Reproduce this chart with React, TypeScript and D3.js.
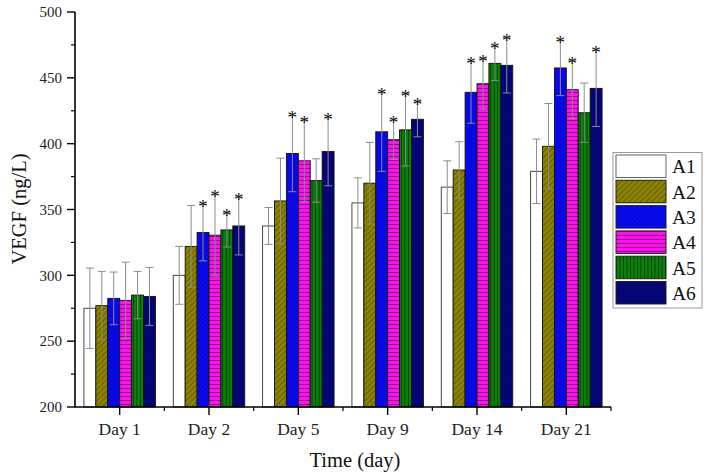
import React from "react";
import { scaleBand, scaleLinear, range } from "d3";

// categories and series
const days = ["Day 1", "Day 2", "Day 5", "Day 9", "Day 14", "Day 21"];
const groups = ["A1", "A2", "A3", "A4", "A5", "A6"];

// mean VEGF (ng/L) per group, one value per day
const a1 = [275, 300, 337.5, 355, 367, 379];
const a2 = [277, 322, 356.5, 370, 380, 398];
const a3 = [282.5, 332.5, 392.5, 409, 439, 457.5];
const a4 = [281, 330.5, 387, 403, 445.5, 441];
const a5 = [285, 334.5, 372, 410.5, 461, 423.5];
const a6 = [284, 337.5, 394, 418.5, 459.5, 442];

// error bars (SD)
const e1 = [30.5, 22, 14, 19, 20, 24.5];
const e2 = [26, 31, 32.5, 31, 21.5, 32.5];
const e3 = [20, 21.5, 29, 30, 23.5, 21];
const e4 = [29, 31, 31, 15, 19, 22];
const e5 = [18, 13, 16.5, 27.5, 13, 22.5];
const e6 = [22, 22, 26, 13.3, 21, 29];

// significance marks (1 = *)
const s1 = [0, 0, 0, 0, 0, 0];
const s2 = [0, 0, 0, 0, 0, 0];
const s3 = [0, 1, 1, 1, 1, 1];
const s4 = [0, 1, 1, 1, 1, 1];
const s5 = [0, 1, 0, 1, 1, 0];
const s6 = [0, 1, 1, 1, 1, 1];

const yTicks = [200, 250, 300, 350, 400, 450, 500];

const means = [a1, a2, a3, a4, a5, a6];
const errs = [e1, e2, e3, e4, e5, e6];
const stars = [s1, s2, s3, s4, s5, s6];

const W = 707;
const H = 473;
const FONT = "'Liberation Serif', 'Times New Roman', serif";

export default function App() {
  const x0 = scaleBand<string>().domain(days).range([75, 611]).paddingInner(0.2).paddingOuter(0.1);
  const x1 = scaleBand<string>().domain(groups).range([0, x0.bandwidth()]);
  const y = scaleLinear().domain([200, 500]).range([407, 12]);
  const minor = range(225, 500, 50);
  const step = x0.step();
  const bounds = days.map((d) => (x0(d) as number) - step * 0.1 + step);

  const fills = ["#ffffff", "url(#pA2)", "url(#pA3)", "url(#pA4)", "url(#pA5)", "url(#pA6)"];

  return (
    <svg width={W} height={H} style={{ position: "absolute", left: 0, top: 0, background: "#fff" }}>
      <defs>
        <pattern id="pA2" width="4" height="4" patternUnits="userSpaceOnUse" patternTransform="rotate(-45)">
          <rect width="4" height="4" fill="#8c8400" />
          <line x1="0" y1="0" x2="4" y2="0" stroke="#3a3500" strokeWidth="1" />
        </pattern>
        <pattern id="pA3" width="3" height="3" patternUnits="userSpaceOnUse" patternTransform="rotate(45)">
          <rect width="3" height="3" fill="#0a0af5" />
          <path d="M0 0H3M0 0V3" stroke="#0000a0" strokeWidth="0.6" />
        </pattern>
        <pattern id="pA4" width="4" height="4" patternUnits="userSpaceOnUse">
          <rect width="4" height="4" fill="#ff10f0" />
          <line x1="0" y1="0.5" x2="4" y2="0.5" stroke="#7a1070" strokeWidth="0.9" />
        </pattern>
        <pattern id="pA5" width="3.5" height="4" patternUnits="userSpaceOnUse">
          <rect width="3.5" height="4" fill="#0a820a" />
          <line x1="0.5" y1="0" x2="0.5" y2="4" stroke="#053a05" strokeWidth="0.9" />
        </pattern>
        <pattern id="pA6" width="3" height="3" patternUnits="userSpaceOnUse">
          <rect width="3" height="3" fill="#05057e" />
          <path d="M0 0H3M0 0V3" stroke="#000050" strokeWidth="0.6" />
        </pattern>
      </defs>

      {/* bars */}
      {days.map((d, di) => (
        <g key={d} transform={`translate(${x0(d)},0)`}>
          {groups.map((g, gi) => {
            const v = means[gi][di];
            const bx = x1(g) as number;
            const bw = x1.bandwidth();
            return (
              <rect
                key={g}
                x={bx}
                y={y(v)}
                width={bw}
                height={y(200) - y(v)}
                fill={fills[gi]}
                stroke={gi === 0 ? "#333" : "#111"}
                strokeWidth={0.9}
              />
            );
          })}
          {/* error bars */}
          {groups.map((g, gi) => {
            const v = means[gi][di];
            const e = errs[gi][di];
            const cx = (x1(g) as number) + x1.bandwidth() / 2;
            return (
              <g key={g} stroke="#8c8c8c" strokeWidth={1}>
                <line x1={cx} x2={cx} y1={y(v - e)} y2={y(v + e)} />
                <line x1={cx - 4} x2={cx + 4} y1={y(v + e)} y2={y(v + e)} />
                <line x1={cx - 4} x2={cx + 4} y1={y(v - e)} y2={y(v - e)} />
              </g>
            );
          })}
          {groups.map((g, gi) =>
            stars[gi][di] ? (
              <text
                key={g}
                x={(x1(g) as number) + x1.bandwidth() / 2}
                y={y(means[gi][di] + errs[gi][di]) + 9}
                textAnchor="middle"
                fontFamily={FONT}
                fontSize={19}
                fill="#111"
              >
                *
              </text>
            ) : null
          )}
        </g>
      ))}

      {/* y axis */}
      <line x1={75} x2={75} y1={y(500)} y2={y(200)} stroke="#000" strokeWidth={1.6} />
      {yTicks.map((t) => (
        <g key={t}>
          <line x1={67} x2={75} y1={y(t)} y2={y(t)} stroke="#000" strokeWidth={1.4} />
          <text x={62} y={y(t)} dy="0.35em" textAnchor="end" fontFamily={FONT} fontSize={15} fill="#222">
            {t}
          </text>
        </g>
      ))}
      {minor.map((t) => (
        <line key={t} x1={71} x2={75} y1={y(t)} y2={y(t)} stroke="#000" strokeWidth={1.2} />
      ))}
      <text
        transform={`translate(26,209) rotate(-90)`}
        textAnchor="middle"
        fontFamily={FONT}
        fontSize={20.5}
        fill="#111"
      >
        VEGF (ng/L)
      </text>

      {/* x axis */}
      <line x1={74} x2={611} y1={y(200)} y2={y(200)} stroke="#000" strokeWidth={1.6} />
      {days.map((d) => {
        const cx = (x0(d) as number) + x0.bandwidth() / 2;
        return (
          <g key={d}>
            <line x1={cx} x2={cx} y1={y(200)} y2={y(200) + 8} stroke="#000" strokeWidth={1.4} />
            <text x={cx} y={435} textAnchor="middle" fontFamily={FONT} fontSize={17.5} fill="#222">
              {d}
            </text>
          </g>
        );
      })}
      {bounds.map((bx, i) => (
        <line key={i} x1={bx} x2={bx} y1={y(200)} y2={y(200) + 4} stroke="#000" strokeWidth={1.2} />
      ))}
      <text x={355} y={467} textAnchor="middle" fontFamily={FONT} fontSize={20.5} fill="#111">
        Time (day)
      </text>

      {/* legend */}
      <rect x={613} y={152.5} width={89} height={155.5} fill="#fff" stroke="#9a9a9a" strokeWidth={1} />
      {groups.map((g, gi) => (
        <g key={g} transform={`translate(616,${155 + gi * 25.3})`}>
          <rect width={50} height={22.5} fill={fills[gi]} stroke={gi === 0 ? "#666" : "#222"} strokeWidth={1} />
          <text x={56} y={11.5} dy="0.35em" fontFamily={FONT} fontSize={19.5} fill="#111">
            {g}
          </text>
        </g>
      ))}
    </svg>
  );
}
